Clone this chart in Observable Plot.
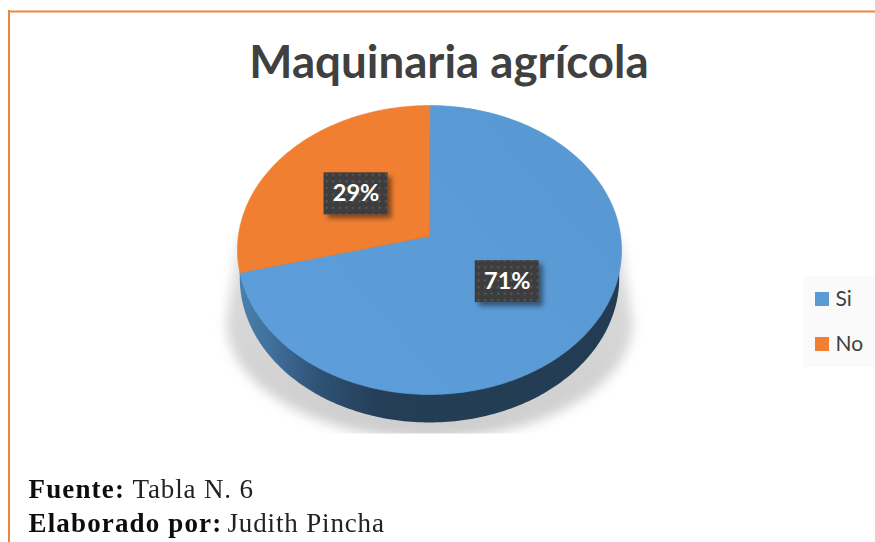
<!DOCTYPE html>
<html>
<head>
<meta charset="utf-8">
<script src="https://cdn.jsdelivr.net/npm/d3@7"></script>
<script src="https://cdn.jsdelivr.net/npm/@observablehq/plot@0.6"></script>
<style>
  html, body { margin: 0; padding: 0; background: #fff; }
  svg { display: block; }
</style>
</head>
<body>
<div id="chart"></div>
<script>
// ---- chart values ----
const categories = ["Si", "No"];
const values = [71, 29];
const labels = ["71%", "29%"];
const colors = ["#5b9bd5", "#f07f31"];
const titleText = "Maquinaria agrícola";
const footerBold = ["Fuente:", "Elaborado por:"];
const footerPlain = ["Tabla N. 6", "Judith Pincha"];

// ---- layout (pixel-identity scales) ----
const W = 875, H = 542;
const apex = {x: 429, y: 236};   // the pie's centre as seen in perspective
const R = {x: 191.2, y: 143.2, k: 0.0934};
const depth = 28;

// perspective projection of a point on the unit disc (angle clockwise from top)
function project(t, r = 1, o = {}) {
  const s = Math.sin(t), c = Math.cos(t), d = 1 + R.k * r * c;
  return {
    x: apex.x + (o.sx ?? 1) * R.x * r * s / d,
    y: apex.y + (o.dy ?? 0) - (o.sy ?? 1) * R.y * r * c / d
  };
}
const arcs = d3.pie().sort(null)(values);
const rad = Math.PI / 180;

const sliceRows = arcs.flatMap((a, i) => {
  const n = Math.ceil((a.endAngle - a.startAngle) / rad);
  const rim = d3.range(n + 1).map(j => project(a.startAngle + (a.endAngle - a.startAngle) * j / n));
  return [apex, ...rim].map(p => ({...p, category: categories[i]}));
});
const sideRows = d3.range(0, 360, 1).map(d => project(d * rad, 1, {dy: depth, sx: 0.988}));

// soft ground shadow: from the widest points of the disc to a wider lower ellipse
const shadowRows = [
  {x: apex.x - R.x, y: 236},
  ...d3.range(180, -1, -2).map(d => ({
    x: apex.x + 203 * Math.cos(d * rad),
    y: 322 + 116 * Math.sin(d * rad)
  })),
  {x: apex.x + R.x, y: 236}
];

const labelRows = arcs.map((a, i) => ({
  ...project((a.startAngle + a.endAngle) / 2, 0.5),
  label: labels[i]
}));
const boxW = 32, boxH = 21;

const legendRows = categories.map((c, i) => ({category: c, cy: 299 + 45 * i}));

const withAttrs = (attrs) => function (index, scales, channels, dims, ctx, next) {
  const g = next(index, scales, channels, dims, ctx);
  for (const [k, v] of Object.entries(attrs)) g.setAttribute(k, v);
  return g;
};

const defs = () => {
  const d = d3.create("svg:defs");
  const side = d.append("linearGradient").attr("id", "sideGrad")
    .attr("gradientUnits", "userSpaceOnUse").attr("x1", 240).attr("x2", 621).attr("y1", 0).attr("y2", 0);
  [[0, "#4c7fae"], [0.08, "#40709b"], [0.2, "#2f5376"], [0.36, "#243e57"], [1, "#233c53"]]
    .forEach(([o, c]) => side.append("stop").attr("offset", o).attr("stop-color", c));
  const sh = d.append("linearGradient").attr("id", "shadowGrad")
    .attr("gradientUnits", "userSpaceOnUse").attr("x1", 0).attr("x2", 0).attr("y1", 238).attr("y2", 433);
  [[0, "#e6e6e6"], [0.3, "#d8d8d8"], [1, "#cecece"]]
    .forEach(([o, c]) => sh.append("stop").attr("offset", o).attr("stop-color", c));
  const sheen = d.append("linearGradient").attr("id", "sheen")
    .attr("gradientUnits", "userSpaceOnUse").attr("x1", 600).attr("y1", 130).attr("x2", 300).attr("y2", 390);
  [[0, "#5696cf", 0.5], [1, "#5fa1e0", 0.5]]
    .forEach(([o, c, a]) => sheen.append("stop").attr("offset", o).attr("stop-color", c).attr("stop-opacity", a));
  const blur = d.append("filter").attr("id", "soft").attr("x", "-10%").attr("y", "-10%").attr("width", "120%").attr("height", "120%");
  blur.append("feGaussianBlur").attr("stdDeviation", 6);
  const ink = d.append("filter").attr("id", "ink");
  ink.append("feGaussianBlur").attr("stdDeviation", 0.45);
  const ds = d.append("filter").attr("id", "boxShadow").attr("x", "-30%").attr("y", "-30%").attr("width", "170%").attr("height", "170%");
  ds.append("feDropShadow").attr("dx", 4).attr("dy", 4).attr("stdDeviation", 2.5).attr("flood-color", "#000").attr("flood-opacity", 0.45);
  const pat = d.append("pattern").attr("id", "dots").attr("width", 6.6).attr("height", 6.6).attr("patternUnits", "userSpaceOnUse");
  pat.append("circle").attr("cx", 3.3).attr("cy", 3.3).attr("r", 1.1).attr("fill", "#5c5c5c");
  const clip = d.append("clipPath").attr("id", "groundClip");
  clip.append("rect").attr("x", 0).attr("y", 0).attr("width", W).attr("height", 433);
  return d.node();
};

const chart = Plot.plot({
  width: W, height: H,
  margin: 0,
  style: {background: "#fff", overflow: "hidden"},
  x: {domain: [0, W], range: [0, W], axis: null},
  y: {domain: [0, H], range: [0, H], axis: null},
  color: {domain: categories, range: colors},
  marks: [
    defs,
    // frame
    Plot.ruleY([11], {x1: 8, x2: W, stroke: "#f0833f", strokeWidth: 2}),
    Plot.ruleX([8.5], {y1: 10, y2: H, stroke: "#f0833f", strokeWidth: 2}),
    // title
    Plot.text([titleText], {x: 448.5, y: 63, text: d => d, fontFamily: "Lato", fontWeight: 700, fontSize: 45.7, fill: "#404040", textAnchor: "middle", lineAnchor: "middle"}),
    // ground shadow
    Plot.line(shadowRows, {x: "x", y: "y", fill: "url(#shadowGrad)", stroke: null, curve: "linear-closed",
      render: withAttrs({filter: "url(#soft)", "clip-path": "url(#groundClip)"})}),
    // side wall
    Plot.line(sideRows, {x: "x", y: "y", fill: "url(#sideGrad)", stroke: null, curve: "linear-closed"}),
    // top face
    Plot.line(sliceRows, {x: "x", y: "y", z: "category", fill: "category", stroke: "category", strokeWidth: 0.6, curve: "linear-closed"}),
    Plot.line(sliceRows.filter(d => d.category === categories[0]), {x: "x", y: "y", fill: "url(#sheen)", stroke: null, curve: "linear-closed"}),
    // data labels
    Plot.rect(labelRows, {x1: d => d.x - boxW, x2: d => d.x + boxW, y1: d => d.y - boxH, y2: d => d.y + boxH, fill: "#3d3d3d",
      render: withAttrs({filter: "url(#boxShadow)"})}),
    Plot.rect(labelRows, {x1: d => d.x - boxW, x2: d => d.x + boxW, y1: d => d.y - boxH, y2: d => d.y + boxH, fill: "url(#dots)"}),
    Plot.text(labelRows, {x: "x", y: "y", text: "label", fontFamily: "Lato", fontWeight: 700, fontSize: 23.5, fill: "#fff", textAnchor: "middle", lineAnchor: "middle"}),
    // legend
    Plot.rect([0], {x1: 803, x2: W, y1: 276, y2: 367, fill: "#fafafa"}),
    Plot.rect(legendRows, {x1: 815, x2: 829, y1: d => d.cy - 7, y2: d => d.cy + 7, fill: "category"}),
    Plot.text(legendRows, {x: 835, y: "cy", text: "category", fontFamily: "Lato", fontSize: 21, fill: "#404040", textAnchor: "start", lineAnchor: "middle"}),
    // footer
    Plot.text(footerBold, {x: 28, y: (d, i) => 497 + 34 * i, text: d => d, fontFamily: "Liberation Serif", fontWeight: 700, fontSize: 27, fill: "#111", textAnchor: "start", lineAnchor: "bottom",
      render: withAttrs({filter: "url(#ink)", "letter-spacing": "1.15px"})}),
    Plot.text(footerPlain, {x: (d, i) => [132, 227][i], y: (d, i) => 497 + 34 * i, text: d => d, fontFamily: "Liberation Serif", fontSize: 27, fill: "#222", textAnchor: "start", lineAnchor: "bottom",
      render: withAttrs({filter: "url(#ink)", "letter-spacing": "0.85px"})})
  ]
});
document.getElementById("chart").append(chart);
</script>
</body>
</html>
